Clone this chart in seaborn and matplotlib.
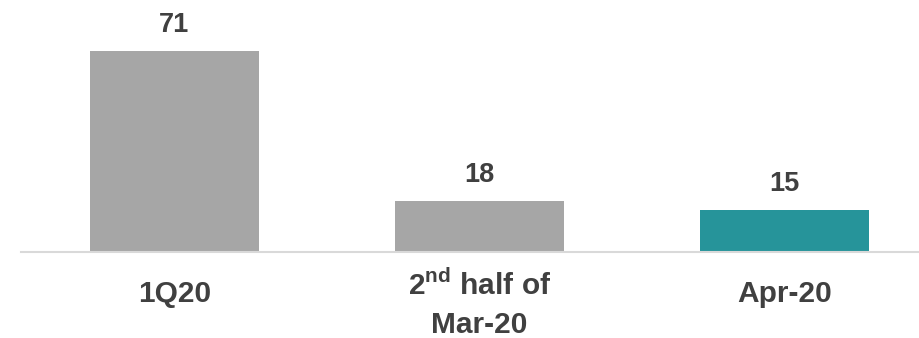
import matplotlib
matplotlib.use("Agg")
import matplotlib.pyplot as plt
import matplotlib.transforms as mtransforms
import seaborn as sns
import pandas as pd

categories = ["1Q20", "2nd half of Mar-20", "Apr-20"]
tick_labels = ["1Q20", "2$^{\\mathbf{nd}}$ half of\nMar-20", "Apr-20"]
values = [71, 18, 15]
bar_colors = ["#A6A6A6", "#A6A6A6", "#26949A"]

sns.set_theme(style="white")
plt.rcParams["font.family"] = ["Liberation Sans", "DejaVu Sans"]
plt.rcParams["mathtext.fontset"] = "custom"
plt.rcParams["mathtext.bf"] = "Liberation Sans:bold"
plt.rcParams["mathtext.rm"] = "Liberation Sans:bold"

text_color = "#404040"
df = pd.DataFrame({"cat": categories, "val": values})

fig = plt.figure(figsize=(9.19, 3.38), dpi=100)
ax = fig.add_axes([21 / 919, (338 - 252) / 338, 898 / 919, 252 / 338])
sns.barplot(data=df, x="cat", y="val", hue="cat", palette=bar_colors,
            width=0.554, linewidth=0, saturation=1, legend=False, ax=ax)

ax.set_xlim(-0.503, 2.441)
ax.set_ylim(0, 89)
ax.set_xlabel("")
ax.set_ylabel("")
ax.set_yticks([])
for s in ["top", "right", "left"]:
    ax.spines[s].set_visible(False)
ax.spines["bottom"].set_color("#D9D9D9")
ax.spines["bottom"].set_linewidth(1.5)

ax.set_xticks(range(len(categories)))
ax.set_xticklabels(tick_labels, fontsize=21.5, fontweight="bold", color=text_color,
                   linespacing=1.45)
ax.tick_params(axis="x", length=0, pad=36)
for lab in ax.get_xticklabels():
    lab.set_verticalalignment("baseline")
    n_extra = lab.get_text().count("\n")
    if n_extra:
        shift = mtransforms.ScaledTranslation(0, -0.31 * n_extra, fig.dpi_scale_trans)
        lab.set_transform(lab.get_transform() + shift)

for i, v in enumerate(values):
    ax.annotate(f"{v}", (i, v), xytext=(0, 13.5), textcoords="offset points",
                ha="center", va="baseline", fontsize=19.5, fontweight="bold",
                color=text_color)

fig.savefig("out.png", dpi=100)
